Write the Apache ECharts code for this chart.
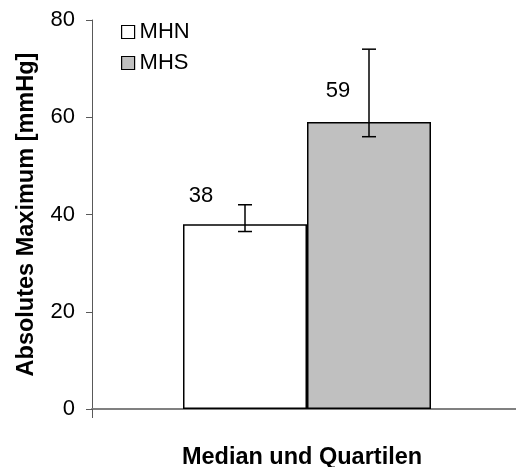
<!DOCTYPE html>
<html>
<head>
<meta charset="utf-8">
<script src="https://cdn.jsdelivr.net/npm/echarts@6/dist/echarts.min.js"></script>
<style>
html,body{margin:0;padding:0;background:#fff;}
#c{width:516px;height:467px;}
</style>
</head>
<body>
<div id="c"></div>
<script>
const categories = [''];
const seriesNames = ['MHN', 'MHS'];
const medians = [38, 59];
const lowerQuartiles = [36.5, 56];
const upperQuartiles = [42, 74];
const yTicks = [0, 20, 40, 60, 80];

const BAR_W = 124;
const FONT = 'Liberation Sans, Arial, sans-serif';
const colors = ['#ffffff', '#c0c0c0'];
const labelOffsets = [[-44, -12], [-31, -15]];

const chart = echarts.init(document.getElementById('c'), null, {renderer: 'canvas'});

const barSeries = seriesNames.map((n, i) => ({
  name: n,
  type: 'bar',
  data: [medians[i]],
  barWidth: BAR_W,
  barGap: '0%',
  itemStyle: {color: colors[i], borderColor: '#000', borderWidth: 1.5},
  label: {
    show: true, position: 'top', offset: labelOffsets[i],
    fontSize: 22, color: '#000', fontFamily: FONT
  },
  emphasis: {disabled: true},
  z: 2
}));

const errData = seriesNames.map((n, i) => [0, lowerQuartiles[i], upperQuartiles[i], i]);

const errSeries = {
  type: 'custom',
  name: 'err',
  data: errData,
  z: 5,
  renderItem: function (params, api) {
    const idx = api.value(3);
    const dx = (idx === 0 ? -1 : 1) * BAR_W / 2;
    const lo = api.coord([api.value(0), api.value(1)]);
    const hi = api.coord([api.value(0), api.value(2)]);
    const x = lo[0] + dx;
    const cap = 7;
    const st = {stroke: '#000', lineWidth: 1.5};
    return {
      type: 'group',
      children: [
        {type: 'line', shape: {x1: x, y1: lo[1], x2: x, y2: hi[1]}, style: st},
        {type: 'line', shape: {x1: x - cap, y1: lo[1], x2: x + cap, y2: lo[1]}, style: st},
        {type: 'line', shape: {x1: x - cap, y1: hi[1], x2: x + cap, y2: hi[1]}, style: st}
      ]
    };
  }
};

chart.setOption({
  animation: false,
  backgroundColor: '#fff',
  textStyle: {fontFamily: FONT},
  grid: {left: 92, top: 20, width: 430, height: 389, outerBoundsMode: 'none', containLabel: false},
  legend: {
    data: seriesNames,
    orient: 'vertical',
    left: 116, top: 16,
    itemWidth: 13, itemHeight: 13, itemGap: 9,
    icon: 'rect',
    itemStyle: {borderColor: '#000', borderWidth: 1.2},
    textStyle: {fontSize: 22, color: '#000', fontFamily: FONT},
    selectedMode: false
  },
  xAxis: {
    type: 'category',
    data: categories,
    name: 'Median und Quartilen',
    nameLocation: 'middle',
    nameGap: 37,
    nameTextStyle: {fontSize: 23.5, fontWeight: 'bold', color: '#000', fontFamily: FONT, padding: [0, 10, 0, 0]},
    axisLine: {show: true, lineStyle: {color: '#808080', width: 2}},
    axisTick: {show: true, length: 9, lineStyle: {color: '#595959', width: 1}},
    axisLabel: {show: false},
    splitLine: {show: false}
  },
  yAxis: {
    type: 'value',
    min: yTicks[0],
    max: yTicks[yTicks.length - 1],
    interval: yTicks[1] - yTicks[0],
    name: 'Absolutes Maximum [mmHg]',
    nameLocation: 'middle',
    nameGap: 53,
    nameTextStyle: {fontSize: 23.5, fontWeight: 'bold', color: '#000', fontFamily: FONT},
    axisLine: {show: true, lineStyle: {color: '#595959', width: 1}},
    axisTick: {show: true, length: 6, lineStyle: {color: '#595959', width: 1}},
    axisLabel: {fontSize: 22, color: '#000', margin: 17, fontFamily: FONT},
    splitLine: {show: false}
  },
  series: barSeries.concat([errSeries])
});
</script>
</body>
</html>
